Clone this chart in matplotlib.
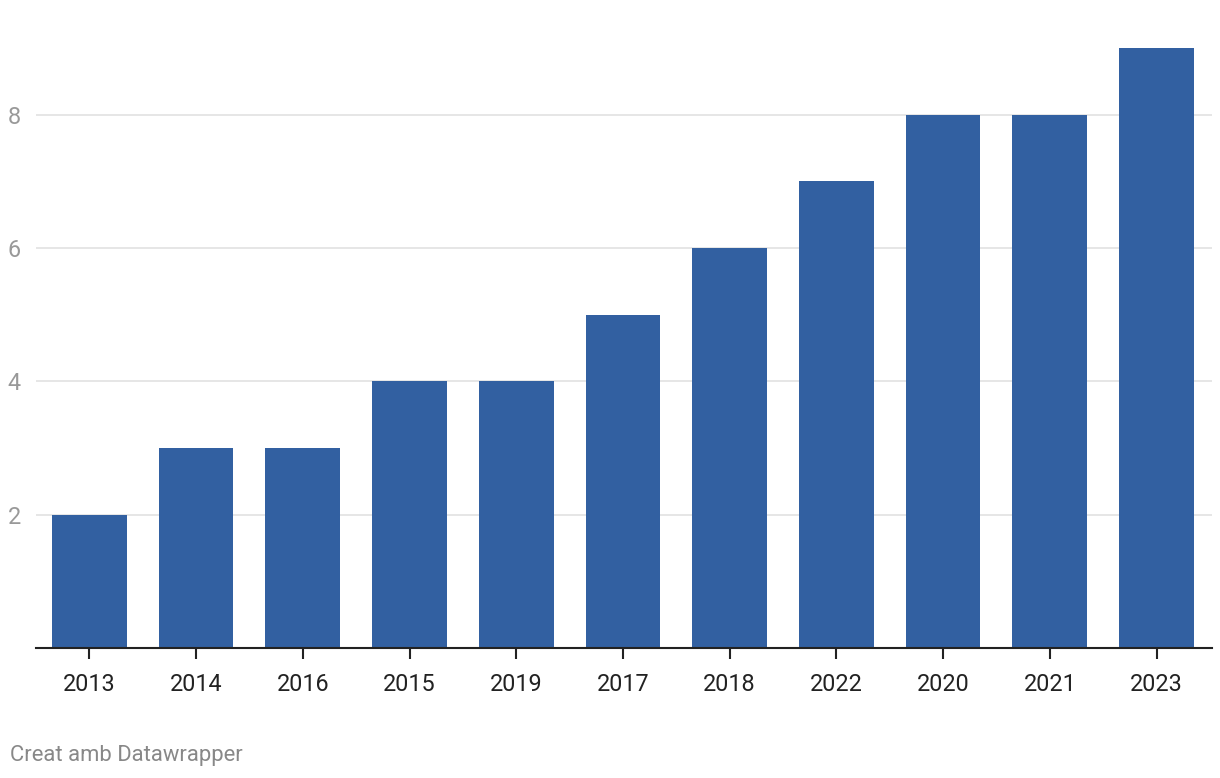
import matplotlib.pyplot as plt

years = ["2013", "2014", "2016", "2015", "2019", "2017", "2018", "2022", "2020", "2021", "2023"]
values = [2, 3, 3, 4, 4, 5, 6, 7, 8, 8, 9]
y_ticks = [2, 4, 6, 8]

plt.rcParams['font.family'] = ['Roboto', 'DejaVu Sans']

fig = plt.figure(figsize=(12.2, 7.78), dpi=100)
ax = fig.add_axes([36 / 1220, 1 - 648 / 778, 1176 / 1220, 600 / 778])

x = range(len(years))
ax.bar(x, values, width=0.70, color='#3260a1', zorder=3)

ax.set_xlim(-0.5, 10.52)
ax.set_ylim(0, 9)
ax.set_xticks(list(x))
ax.set_xticklabels(years, fontsize=16.8, color='#222222')
ax.tick_params(axis='x', length=8, width=1.5, color='#222222', pad=10)

ax.set_yticks(y_ticks)
ax.set_yticklabels([str(t) for t in y_ticks], fontsize=16.8, color='#999999')
ax.tick_params(axis='y', length=0, pad=11)
ax.yaxis.grid(True, color='#e1e1e1', linewidth=1.2, zorder=0)

for side in ['top', 'right', 'left']:
    ax.spines[side].set_visible(False)
ax.spines['bottom'].set_color('#222222')
ax.spines['bottom'].set_linewidth(1.5)
ax.spines['bottom'].set_zorder(4)

fig.text(10 / 1220, 1 - 756 / 778, "Creat amb Datawrapper", fontsize=15.8,
         color='#888888', va='center', ha='left')

fig.savefig('out.png', dpi=100)
